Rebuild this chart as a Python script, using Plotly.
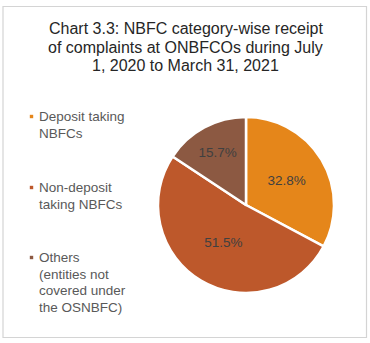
import plotly.graph_objects as go

W, H = 370, 343

title_lines = ["Chart 3.3: NBFC category-wise receipt",
               "of complaints at ONBFCOs during July",
               "1, 2020 to March 31, 2021"]
categories = ["Deposit taking NBFCs",
              "Non-deposit taking NBFCs",
              "Others (entities not covered under the OSNBFC)"]
legend_lines = [["Deposit taking", "NBFCs"],
                ["Non-deposit", "taking NBFCs"],
                ["Others", "(entities not", "covered under", "the OSNBFC)"]]
shares = [32.8, 51.5, 15.7]
colors = ["#E5861A", "#BD582B", "#8C5942"]

fig = go.Figure()
cx, cy, r = 246, 205, 88
fig.add_trace(go.Pie(
    labels=categories, values=shares, sort=False, direction="clockwise",
    rotation=0,
    marker=dict(colors=colors, line=dict(color="white", width=2.5)),
    texttemplate="%{value:.1f}%", textposition="inside",
    insidetextorientation="horizontal",
    textfont=dict(family="Liberation Sans, Arial, sans-serif", size=13.5, color="#404040"),
    domain=dict(x=[(cx - r) / W, (cx + r) / W], y=[1 - (cy + r) / H, 1 - (cy - r) / H]),
    showlegend=False, hoverinfo="label+percent",
))

annotations = []
shapes = []
# border
shapes.append(dict(type="rect", xref="paper", yref="paper",
                   x0=3 / W, x1=366.5 / W, y0=1 - 337.5 / H, y1=1 - 6.5 / H,
                   line=dict(color="#D4D4D4", width=1.2), fillcolor="rgba(0,0,0,0)"))
# title
title_y = [29, 47.5, 65.5]
for t, y in zip(title_lines, title_y):
    annotations.append(dict(text=t, x=185.5 / W, y=1 - y / H, xref="paper", yref="paper",
                            showarrow=False, xanchor="center", yanchor="middle",
                            font=dict(family="Liberation Sans, Arial, sans-serif", size=16, color="#262626")))
# legend
item_y = [116.5, 187.5, 257.5]
lh = 16.7
for lines, y0, col in zip(legend_lines, item_y, colors):
    shapes.append(dict(type="rect", xref="paper", yref="paper",
                       x0=29.8 / W, x1=33.2 / W, y0=1 - (y0 + 1.7) / H, y1=1 - (y0 - 1.7) / H,
                       line=dict(width=0), fillcolor=col))
    for i, ln in enumerate(lines):
        annotations.append(dict(text=ln, x=37 / W, y=1 - (y0 + i * lh) / H, xref="paper", yref="paper",
                                showarrow=False, xanchor="left", yanchor="middle",
                                font=dict(family="Liberation Sans, Arial, sans-serif", size=13.5, color="#595959")))

fig.update_layout(width=W, height=H, margin=dict(l=0, r=0, t=0, b=0),
                  paper_bgcolor="white", plot_bgcolor="white",
                  annotations=annotations, shapes=shapes)
fig.write_html("out.html")
